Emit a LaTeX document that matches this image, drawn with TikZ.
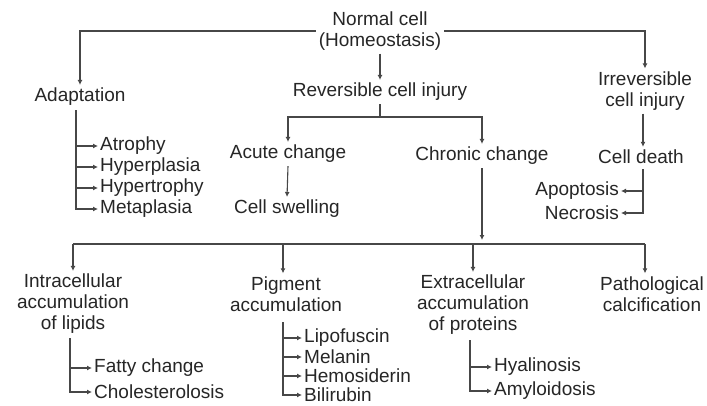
\documentclass[tikz,border=0pt]{standalone}
\usepackage{fontspec}
\setmainfont{Liberation Sans}
\usetikzlibrary{arrows.meta}
\begin{document}
\begin{tikzpicture}[x=1pt,y=-1pt,
  lbl/.style={font=\fontsize{19}{21}\selectfont, text=black!85, align=center, inner sep=3pt},
  item/.style={font=\fontsize{19}{21}\selectfont, text=black!85, inner sep=2pt},
  ln/.style={draw=black!72, line width=1.1pt},
  arr/.style={ln, -{Latex[length=5pt,width=5pt]}}]
\useasboundingbox (0,0) rectangle (707,405);
\fill[white] (0,0) rectangle (707,405);
% main nodes
\node[lbl] (normal) at (380,31) {Normal cell\\(Homeostasis)};
\node[lbl] (adapt) at (80,97) {Adaptation};
\node[lbl] (rev) at (380,92) {Reversible cell injury};
\node[lbl] (irrev) at (645,91) {Irreversible\\cell injury};
\node[lbl] (acute) at (288,154) {Acute change};
\node[lbl] (swell) at (287,209) {Cell swelling};
\node[lbl] (chronic) at (482,156) {Chronic change};
\node[lbl] (death) at (641,157) {Cell death};
% lists
\node[item, anchor=east] (apop) at (621,191) {Apoptosis};
\node[item, anchor=east] (necr) at (621,213) {Necrosis};
\node[item, anchor=west] (atro) at (98,146) {Atrophy};
\node[item, anchor=west] (hpla) at (98,167) {Hyperplasia};
\node[item, anchor=west] (htro) at (98,188) {Hypertrophy};
\node[item, anchor=west] (meta) at (98,209) {Metaplasia};
% bottom level
\node[lbl] (intra) at (73,304) {Intracellular\\accumulation\\of lipids};
\node[lbl] (pig) at (286,294) {Pigment\\accumulation};
\node[lbl] (extra) at (473,305) {Extracellular\\accumulation\\of proteins};
\node[lbl] (patho) at (652,294) {Pathological\\calcification};
\node[item, anchor=west] (fatty) at (92,368) {Fatty change};
\node[item, anchor=west] (chol) at (92,392) {Cholesterolosis};
\node[item, anchor=west] (lipo) at (302,338) {Lipofuscin};
\node[item, anchor=west] (mela) at (302,357) {Melanin};
\node[item, anchor=west] (hemo) at (302,376) {Hemosiderin};
\node[item, anchor=west] (bili) at (302,395) {Bilirubin};
\node[item, anchor=west] (hyal) at (492,367) {Hyalinosis};
\node[item, anchor=west] (amyl) at (492,391) {Amyloidosis};
% coordinates
\coordinate (j1) at (380,117);
\coordinate (ab) at (76,110);
\coordinate (cdb) at (643,169);
\coordinate (cb) at (482,240);
\coordinate (hl) at (73,244);
\coordinate (hp) at (283,244);
\coordinate (he) at (473,244);
\coordinate (hr) at (645,244);
\coordinate (lb) at (70,338);
\coordinate (pb) at (283,322);
\coordinate (eb) at (470,340);
% connectors
\draw[arr] (normal.west) -| (adapt.north);
\draw[arr] (normal.east) -| (irrev.north);
\draw[arr] (normal.south) -- (rev.north);
\draw[ln] (rev.south) -- (j1);
\draw[arr] (j1) -| (acute.north);
\draw[arr] (j1) -| (chronic.north);
\draw[arr] (acute.south) -- (swell.north);
\draw[arr] (irrev.south -| cdb) -- (death.north -| cdb);
\draw[arr] (cdb) |- (apop.east);
\draw[arr] (cdb) |- (necr.east);
\draw[arr] (ab) |- (atro.west);
\draw[arr] (ab) |- (hpla.west);
\draw[arr] (ab) |- (htro.west);
\draw[arr] (ab) |- (meta.west);
\draw[arr] (chronic.south) -- (cb);
\draw[ln] (hl) -- (hr);
\draw[arr] (hl) -- (intra.north);
\draw[arr] (hp) -- (hp |- pig.north);
\draw[arr] (he) -- (extra.north);
\draw[arr] (hr) -- (hr |- patho.north);
\draw[arr] (lb) |- (fatty.west);
\draw[arr] (lb) |- (chol.west);
\draw[arr] (pb) |- (lipo.west);
\draw[arr] (pb) |- (mela.west);
\draw[arr] (pb) |- (hemo.west);
\draw[arr] (pb) |- (bili.west);
\draw[arr] (eb) |- (hyal.west);
\draw[arr] (eb) |- (amyl.west);
\end{tikzpicture}
\end{document}
